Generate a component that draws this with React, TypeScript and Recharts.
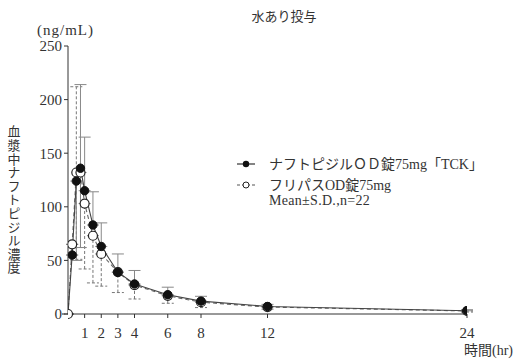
import React from "react";
import { LineChart, Line, XAxis, YAxis, ErrorBar, Legend } from "recharts";

const times = [0, 0.25, 0.5, 0.75, 1, 1.5, 2, 3, 4, 6, 8, 12, 24];
const tckMean = [0, 55, 124, 136, 115, 83, 63, 39, 28, 18, 12, 7, 3];
const tckSdLow = [0, 0, 74, 74, 0, 0, 0, 0, 0, 0, 0, 0, 0];
const tckSdHigh = [0, 0, 0, 78, 50, 31, 22, 17, 12.6, 7, 4.5, 2, 1];
const flvMean = [0, 65, 132, 132, 103, 73, 56, 39, 27, 17, 11, 6.5, 2.8];
const flvSdLow = [0, 0, 81, 70, 61, 44, 30, 19, 13, 7, 5, 2, 1];
const flvSdHigh = [0, 0, 80, 0, 0, 0, 0, 0, 0, 0, 0, 0, 0];
const xTicks = [1, 2, 3, 4, 6, 8, 12, 24];
const yTicks = [0, 50, 100, 150, 200, 250];

const title = "水あり投与";
const yLabel = "血漿中ナフトピジル濃度";
const unitLabel = "(ng/mL)";
const xLabel = "時間(hr)";
const seriesNames = ["ナフトピジルＯＤ錠75mg「TCK」", "フリパスOD錠75mg"];
const noteText = "Mean±S.D.,n=22";

const tckData = times.map((t, i) => ({ t, v: tckMean[i], err: [tckSdLow[i], tckSdHigh[i]] }));
const flvData = times.map((t, i) => ({ t, v: flvMean[i], err: [flvSdLow[i], flvSdHigh[i]] }));

const FONT = "'Liberation Serif', 'Noto Sans CJK JP', serif";
const JFONT = "'Liberation Serif', 'Noto Sans CJK JP', sans-serif";

const LegendContent = () => (
  <div style={{ fontFamily: JFONT, color: "#333", fontSize: 14, lineHeight: "15px" }}>
    <div style={{ display: "flex", alignItems: "center", height: 18 }}>
      <svg width={33} height={12} style={{ flex: "none" }}>
        <line x1={1} x2={19} y1={6} y2={6} stroke="#333" strokeWidth={1.2} />
        <circle cx={10} cy={6} r={3.2} fill="#111" />
      </svg>
      <span>{seriesNames[0]}</span>
    </div>
    <div style={{ display: "flex", alignItems: "flex-start", marginTop: 5 }}>
      <svg width={33} height={14} style={{ flex: "none" }}>
        <line x1={1} x2={19} y1={7} y2={7} stroke="#555" strokeWidth={1.2} strokeDasharray="3 2" />
        <circle cx={10} cy={7} r={3} fill="#fff" stroke="#222" strokeWidth={1} />
      </svg>
      <div>
        <div>{seriesNames[1]}</div>
        <div style={{ letterSpacing: 0.3 }}>{noteText}</div>
      </div>
    </div>
  </div>
);

const TckDot = (props: any) => {
  const { cx, cy, index } = props;
  if (index === 0 || cx == null || cy == null) return <g key={`d${index}`} />;
  return <circle key={`d${index}`} cx={cx} cy={cy} r={4.2} fill="#111" stroke="#111" strokeWidth={1} />;
};

export default function App() {
  return (
    <div style={{ position: "absolute", left: 0, top: 0, width: 521, height: 359, background: "#fff" }}>
      <LineChart
        width={521}
        height={359}
        margin={{ top: 46, right: 54, bottom: 15, left: 8 }}
        style={{ fontFamily: FONT }}
      >
        <XAxis
          dataKey="t"
          type="number"
          domain={[0, 24]}
          ticks={xTicks}
          allowDataOverflow
          height={30}
          tickSize={4}
          tickMargin={9}
          stroke="#333"
          tick={{ fill: "#333", fontSize: 15, fontFamily: FONT }}
          tickLine={{ stroke: "#333" }}
        />
        <YAxis
          type="number"
          domain={[0, 250]}
          ticks={yTicks}
          width={60}
          tickSize={4}
          tickMargin={2}
          stroke="#333"
          tick={{ fill: "#333", fontSize: 15, fontFamily: FONT }}
          tickLine={{ stroke: "#333" }}
        />
        <Legend
          layout="vertical"
          align="center"
          verticalAlign="middle"
          content={LegendContent}
          wrapperStyle={{ position: "absolute", left: 236, top: 155, width: 280 }}
        />
        <Line
          data={flvData}
          dataKey="v"
          type="linear"
          stroke="#666"
          strokeWidth={1.1}
          strokeDasharray="4 3"
          dot={{ r: 4.5, fill: "#fff", stroke: "#222", strokeWidth: 1.2, strokeDasharray: "0" }}
          isAnimationActive={false}
        >
          <ErrorBar dataKey="err" direction="y" width={6} stroke="#777" strokeWidth={1} strokeDasharray="3 2" />
        </Line>
        <Line
          data={tckData}
          dataKey="v"
          type="linear"
          stroke="#444"
          strokeWidth={1.1}
          dot={TckDot}
          isAnimationActive={false}
        >
          <ErrorBar dataKey="err" direction="y" width={6} stroke="#888" strokeWidth={1} />
        </Line>
        <text x={284} y={21} textAnchor="middle" fontSize={13} fill="#333" fontFamily={JFONT}>
          {title}
        </text>
        <text x={37} y={35} fontSize={15} fill="#333" fontFamily={FONT} letterSpacing={1}>
          {unitLabel}
        </text>
        <text x={513} y={355} textAnchor="end" fontSize={14} fill="#333" fontFamily={JFONT}>
          {xLabel}
        </text>
        <text
          x={13}
          y={125}
          fontSize={13}
          fill="#333"
          fontFamily={JFONT}
          letterSpacing={0.6}
          style={{ writingMode: "vertical-rl" }}
        >
          {yLabel}
        </text>
      </LineChart>
    </div>
  );
}
